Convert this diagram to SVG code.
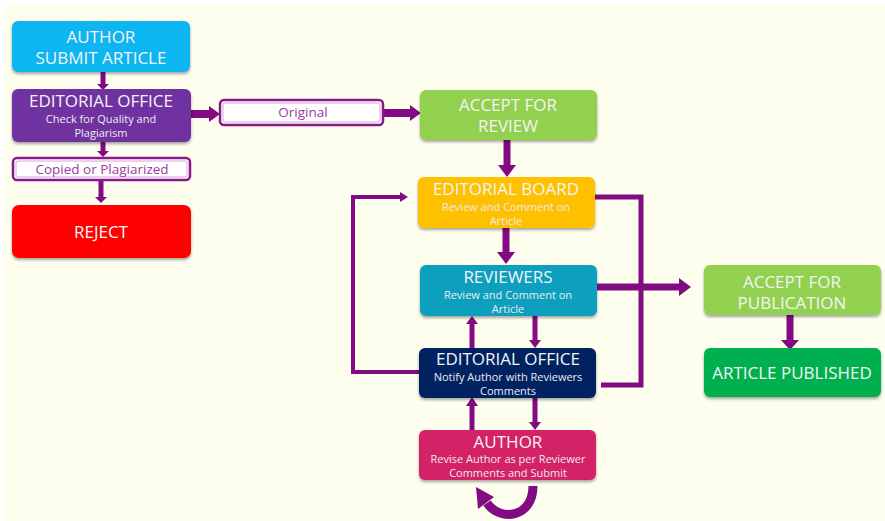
<svg xmlns="http://www.w3.org/2000/svg" width="885" height="521" viewBox="0 0 885 521">
<defs>
<filter id="sh" x="-10%" y="-10%" width="120%" height="130%">
<feDropShadow dx="0" dy="2" stdDeviation="1.5" flood-color="#000" flood-opacity="0.35"/>
</filter>
</defs>
<style>
.t{font-family:"Open Sans","Noto Sans",sans-serif;fill:#f4f4f4;text-anchor:middle}
.h{font-size:17px}
.s{font-size:11px;fill:#ececec}
.lb{font-family:"Open Sans","Noto Sans",sans-serif;font-size:13.5px;fill:#9a3aa0;text-anchor:middle}
.c{fill:none;stroke:#820a82;stroke-linecap:butt;stroke-linejoin:miter}
.a{fill:#820a82}
.lbox{fill:#fff;stroke:#8a1a8a;stroke-width:2.5}
.lin{fill:none;stroke:#d6a8d6;stroke-width:1}
</style>
<rect x="3" y="4" width="882" height="517" fill="#fdfeee"/>

<g id="connectors">
<path class="c" d="M103 72V85" stroke-width="5"/><polygon class="a" points="97,84 109,84 103,90"/>
<path class="c" d="M103 142V152" stroke-width="5"/><polygon class="a" points="97,151 109,151 103,157"/>
<path class="c" d="M101 180V198" stroke-width="5"/><polygon class="a" points="95,197 107,197 101,203"/>
<path class="c" d="M190 114H210" stroke-width="8"/><polygon class="a" points="209,106 220,114 209,122"/>
<path class="c" d="M383 113H411" stroke-width="8"/><polygon class="a" points="410,105 421,113 410,121"/>
<path class="c" d="M507 140V166" stroke-width="7"/><polygon class="a" points="498,165 516,165 507,177"/>
<path class="c" d="M506 228V253" stroke-width="7"/><polygon class="a" points="497,252 515,252 506,264"/>
<path class="c" d="M597 287H680" stroke-width="7"/><polygon class="a" points="679,278 691,287 679,296"/>
<path class="c" d="M419 372H353V197H401" stroke-width="4"/><polygon class="a" points="400,192 408,197 400,202"/>
<path class="c" d="M595 197H641V385H601" stroke-width="5"/>
<path class="c" d="M472 348V323" stroke-width="5"/><polygon class="a" points="466,324 478,324 472,316"/>
<path class="c" d="M535 316V341" stroke-width="5"/><polygon class="a" points="529,340 541,340 535,348"/>
<path class="c" d="M472 430V405" stroke-width="5"/><polygon class="a" points="466,406 478,406 472,397"/>
<path class="c" d="M535 398V423" stroke-width="5"/><polygon class="a" points="529,422 541,422 535,430"/>
<path class="c" d="M790 315V341" stroke-width="7"/><polygon class="a" points="781,340 799,340 790,350"/>
<path class="c" d="M533 486C533 518 500 522 487 503" stroke-width="9"/>
<polygon class="a" points="494,497 478,509 476,487"/>
</g>

<g id="author-submit">
<rect x="12" y="21" width="178" height="51" rx="6" fill="#0bb5f1" filter="url(#sh)"/>
<text class="t h" x="101" y="43">AUTHOR</text>
<text class="t h" x="101" y="64">SUBMIT ARTICLE</text>
</g>

<g id="editorial-office-check">
<rect x="12" y="89" width="179" height="53" rx="6" fill="#7030a0" filter="url(#sh)"/>
<text class="t h" x="101" y="107">EDITORIAL OFFICE</text>
<text class="t s" x="101" y="123">Check for Quality and</text>
<text class="t s" x="101" y="137">Plagiarism</text>
</g>

<g id="copied-label">
<rect class="lbox" x="13" y="158" width="177" height="22" rx="4"/>
<rect class="lin" x="16" y="161" width="171" height="16" rx="2"/>
<text class="lb" x="102" y="174">Copied or Plagiarized</text>
</g>

<g id="reject">
<rect x="12" y="205" width="179" height="53" rx="7" fill="#ff0000" filter="url(#sh)"/>
<text class="t h" x="101" y="238">REJECT</text>
</g>

<g id="original-label">
<rect class="lbox" x="220" y="100" width="163" height="25" rx="4"/>
<rect class="lin" x="223" y="103" width="157" height="19" rx="2"/>
<text class="lb" x="303" y="117">Original</text>
</g>

<g id="accept-review">
<rect x="420" y="90" width="177" height="50" rx="6" fill="#92d050" filter="url(#sh)"/>
<text class="t h" x="508" y="111">ACCEPT FOR</text>
<text class="t h" x="508" y="132">REVIEW</text>
</g>

<g id="editorial-board">
<rect x="418" y="177" width="177" height="51" rx="6" fill="#ffc000" filter="url(#sh)"/>
<text class="t h" x="506" y="195">EDITORIAL BOARD</text>
<text class="t s" x="506" y="211">Review and Comment on</text>
<text class="t s" x="506" y="225">Article</text>
</g>

<g id="reviewers">
<rect x="420" y="265" width="177" height="51" rx="6" fill="#119fbe" filter="url(#sh)"/>
<text class="t h" x="508" y="283">REVIEWERS</text>
<text class="t s" x="508" y="299">Review and Comment on</text>
<text class="t s" x="508" y="313">Article</text>
</g>

<g id="editorial-office-notify">
<rect x="419" y="348" width="177" height="50" rx="6" fill="#002060" filter="url(#sh)"/>
<text class="t h" x="508" y="365">EDITORIAL OFFICE</text>
<text class="t s" x="508" y="381">Notify Author with Reviewers</text>
<text class="t s" x="508" y="395">Comments</text>
</g>

<g id="author-revise">
<rect x="419" y="430" width="177" height="50" rx="6" fill="#d42366" filter="url(#sh)"/>
<text class="t h" x="508" y="448">AUTHOR</text>
<text class="t s" x="508" y="463">Revise Author as per Reviewer</text>
<text class="t s" x="508" y="477">Comments and Submit</text>
</g>

<g id="accept-publication">
<rect x="704" y="265" width="177" height="50" rx="6" fill="#92d050" filter="url(#sh)"/>
<text class="t h" x="792" y="288">ACCEPT FOR</text>
<text class="t h" x="792" y="309">PUBLICATION</text>
</g>

<g id="article-published">
<rect x="704" y="348" width="177" height="49" rx="6" fill="#00b050" filter="url(#sh)"/>
<text class="t h" x="792" y="379">ARTICLE PUBLISHED</text>
</g>
</svg>
